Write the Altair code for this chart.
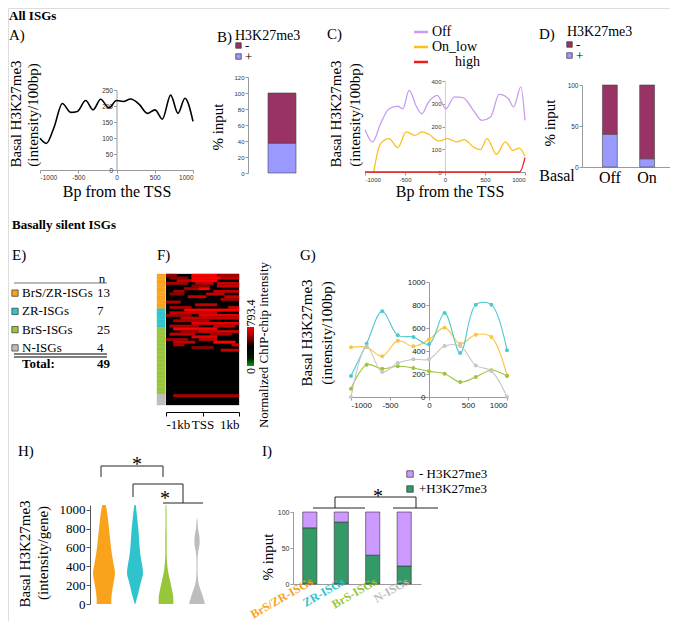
import altair as alt
import pandas as pd

W, H = 662, 613
M = 8
SERIF = "Liberation Serif"
SANS = "Liberation Sans"


def P(v):
    return v - M


# ---------------- data ----------------
# A) all ISGs
a_bp = [-1000, -917, -817, -708, -599, -512, -403, -307, -207, -98, 0, 89, 185, 294, 403, 503, 599, 708, 804, 895, 1000]
a_val = [99, 83, 133, 208, 180, 183, 217, 188, 221, 194, 217, 214, 222, 206, 177, 188, 159, 234, 177, 224, 152]

# B) all ISGs, % input
b_signs = ["-", "+"]
b_pct = [63, 37]
b_colors = ["#993366", "#9999ff"]

# C) by basal expression
c_off_bp = [-1000, -905, -806, -699, -591, -527, -449, -355, -290, -204, -97, 11, 118, 226, 355, 462, 570, 677, 793, 858, 948, 1000]
c_off_val = [186, 132, 212, 278, 289, 278, 359, 286, 256, 308, 337, 278, 330, 327, 271, 227, 242, 341, 322, 286, 374, 227]
c_low_bp = [-892, -806, -699, -591, -484, -376, -290, -204, -75, 32, 140, 239, 355, 441, 527, 643, 755, 849, 927, 1000]
c_low_val = [0, 125, 147, 107, 176, 161, 176, 166, 136, 147, 132, 142, 110, 98, 147, 78, 132, 95, 105, 69]
c_high_bp = [-1000, 935, 1000]
c_high_val = [0, 0, 63]
c_series = ["Off", "On_low", "high"]
c_colors = ["#c79cf2", "#fbbf1e", "#ee1c1c"]

# D)
d_cats = ["Off", "On"]
d_plus = [40, 10]

# E) groups
groups = ["BrS/ZR-ISGs", "ZR-ISGs", "BrS-ISGs", "N-ISGs"]
counts = [13, 7, 25, 4]
group_colors = ["#f8a31b", "#2fc4cd", "#98c63a", "#bdbdbd"]

# F) heatmap: per gene row, red segments (first column, last column, level 1-9)
f_segments = [
    [(0, 2, 5), (7, 13, 9), (14, 19, 6)],
    [(1, 5, 5), (7, 14, 9), (15, 19, 7)],
    [(3, 6, 7), (7, 13, 9)],
    [(0, 5, 6), (8, 12, 7), (14, 19, 7)],
    [(7, 11, 5), (14, 19, 7)],
    [(5, 8, 6), (9, 11, 9)],
    [(2, 4, 6), (13, 19, 7)],
    [(1, 4, 5), (11, 15, 7)],
    [(6, 10, 7), (16, 19, 7)],
    [(15, 19, 6)],
    [(0, 3, 6)],
    [(8, 13, 7)],
    [(1, 6, 6), (17, 19, 7)],
    [(5, 19, 9)],
    [(1, 13, 7)],
    [(0, 6, 6), (9, 19, 8)],
    [(4, 19, 7)],
    [(2, 11, 6)],
    [(7, 19, 8)],
    [(1, 8, 6), (13, 18, 7)],
    [(2, 13, 9)],
    [(4, 8, 6), (9, 19, 8)],
    [(1, 7, 7), (12, 17, 6)],
    [(7, 13, 8)],
    [(0, 5, 6), (9, 13, 7)],
    [(2, 7, 7), (13, 18, 9)],
    [(2, 4, 6), (18, 19, 7)],
    [(7, 12, 5)],
    [(15, 19, 7)],
    [], [], [], [], [], [], [], [], [], [], [], [], [], [], [], [],
    [(2, 19, 6)],
    [], [], [],
]
f_max = 793.4

# G) basally silent, per group
g_bp = [-1000, -800, -600, -400, -200, 0, 200, 400, 600, 800, 1000]
g_brszr = [432, 432, 354, 490, 441, 499, 603, 464, 542, 522, 188]
g_zr = [183, 464, 745, 536, 522, 458, 730, 383, 803, 803, 406]
g_brs = [72, 281, 246, 267, 252, 223, 203, 130, 174, 232, 183]
g_n = [0, 441, 217, 296, 328, 328, 443, 443, 275, 226, 0]
g_colors = ["#f9c43e", "#4cc8cf", "#9cc43c", "#c6c6c6"]

# H) violin profiles (half width, arbitrary density units) at levels
h_levels = {
    "BrS/ZR-ISGs": [0, 50, 150, 250, 330, 400, 500, 600, 700, 800, 900, 1000, 1050],
    "ZR-ISGs": [0, 40, 100, 180, 250, 330, 400, 500, 600, 700, 800, 900, 1000, 1050],
    "BrS-ISGs": [0, 60, 150, 250, 350, 450, 550, 700, 850, 1000, 1050],
    "N-ISGs": [0, 50, 120, 200, 300, 400, 500, 580, 650, 720, 800, 880, 920],
}
h_width = {
    "BrS/ZR-ISGs": [22, 22, 25, 30, 33, 30, 25, 21, 18, 15, 12, 8, 5],
    "ZR-ISGs": [1, 4, 9, 14, 19, 24, 22, 17, 14, 12, 10, 7, 4, 2],
    "BrS-ISGs": [22, 22, 18, 12, 6, 3, 2, 2, 1.5, 1.5, 1],
    "N-ISGs": [24, 20, 14, 6, 2, 1.5, 2, 5, 8, 7, 3, 1.5, 0],
}

# I) % input
i_plus = [78, 86, 40, 25]
i_signs = ["- H3K27me3", "+H3K27me3"]
i_colors = ["#cc99ff", "#339966"]


# ---------------- helpers ----------------
def mk_axis(orient, at, **kw):
    off = (P(at) - H) if orient == "bottom" else -P(at)
    base = dict(orient=orient, offset=off, grid=False, title=None,
                labelFont=SANS, labelFontSize=7, labelColor="#333",
                domainColor="#9a9a9a", tickColor="#9a9a9a", tickSize=3,
                labelPadding=1, labelExpr="'' + datum.value")
    base.update(kw)
    return alt.Axis(**base)


one = pd.DataFrame({"k": [0]})


def txt(s, x, y, size=15, angle=0, align="center", weight="normal",
        baseline="middle", font=SERIF, color="black"):
    return alt.Chart(one).mark_text(
        text=s, fontSize=size, angle=angle, align=align, baseline=baseline,
        font=font, fontWeight=weight, color=color
    ).encode(x=alt.value(P(x)), y=alt.value(P(y)))


def segs(lst, color="black", width=1.0):
    df = pd.DataFrame([[P(a), P(b), P(c), P(d)] for a, b, c, d in lst],
                      columns=["x", "y", "x2", "y2"])
    return alt.Chart(df).mark_rule(color=color, strokeWidth=width).encode(
        x=alt.X("x:Q", scale=None, axis=None), y=alt.Y("y:Q", scale=None, axis=None),
        x2="x2:Q", y2="y2:Q")


def sq_legend(items, colors, x_sq, x_txt, y0, y1, size, fs):
    df = pd.DataFrame({"item": items})
    ys = alt.Scale(domain=items, range=[P(y0), P(y1)])
    sq = alt.Chart(df).mark_square(size=size, opacity=1, stroke="#333", strokeWidth=0.7).encode(
        y=alt.Y("item:N", scale=ys, axis=None), x=alt.value(P(x_sq)),
        color=alt.Color("item:N", scale=alt.Scale(domain=items, range=colors), legend=None))
    tx = alt.Chart(df).mark_text(align="left", font=SERIF, fontSize=fs, color="black").encode(
        y=alt.Y("item:N", scale=ys, axis=None), x=alt.value(P(x_txt)), text="item:N")
    return [sq, tx]


layers = []

# ---------------- A ----------------
dfA = pd.DataFrame({"bp": a_bp, "v": a_val})
layers.append(alt.Chart(dfA).mark_line(color="black", strokeWidth=1.6, interpolate="monotone").encode(
    x=alt.X("bp:Q", scale=alt.Scale(domain=[-1000, 1000], range=[P(40), P(193)]),
            axis=mk_axis("bottom", 170, values=[-1000, -500, 0, 500, 1000], labelFontSize=6.5)),
    y=alt.Y("v:Q", scale=alt.Scale(domain=[0, 250], range=[P(170), P(90)]),
            axis=mk_axis("left", 116.5, values=[0, 50, 100, 150, 200, 250], labelFontSize=6.5)),
))

# ---------------- B ----------------
dfB = pd.DataFrame({"grp": ["all", "all"], "sign": b_signs, "pct": b_pct, "ord": [1, 0]})
layers.append(alt.Chart(dfB).mark_bar(stroke="#444", strokeWidth=0.6).encode(
    x=alt.X("grp:N", scale=alt.Scale(domain=["all"], range=[P(248), P(316)], paddingInner=0, paddingOuter=0.715), axis=None),
    y=alt.Y("pct:Q", stack="zero", scale=alt.Scale(domain=[0, 120], range=[P(173), P(77)]),
            axis=mk_axis("left", 248, values=list(range(0, 121, 20)), labelFontSize=6)),
    color=alt.Color("sign:N", scale=alt.Scale(domain=b_signs, range=b_colors), legend=None),
    order=alt.Order("ord:Q"),
))
layers += sq_legend(b_signs, b_colors, 238.5, 245, 40, 62, 30, 13)

# ---------------- C ----------------
dfC = pd.concat([
    pd.DataFrame({"s": "Off", "bp": c_off_bp, "v": c_off_val}),
    pd.DataFrame({"s": "On_low", "bp": c_low_bp, "v": c_low_val}),
    pd.DataFrame({"s": "high", "bp": c_high_bp, "v": c_high_val}),
])
cscale = alt.Scale(domain=c_series, range=c_colors)
layers.append(alt.Chart(dfC).mark_line(interpolate="monotone", strokeWidth=1.3).encode(
    x=alt.X("bp:Q", scale=alt.Scale(domain=[-1000, 1000], range=[P(365), P(525)]),
            axis=mk_axis("bottom", 172, values=[-1000, -500, 0, 500, 1000], labelFontSize=6)),
    y=alt.Y("v:Q", scale=alt.Scale(domain=[0, 400], range=[P(172), P(81)]),
            axis=mk_axis("left", 445, values=[0, 100, 200, 300, 400], labelFontSize=6, domainColor="#d0d0d0")),
    color=alt.Color("s:N", scale=cscale, legend=None),
    order=alt.Order("bp:Q"),
))
dfCL = pd.DataFrame({"s": c_series})
cys = alt.Scale(domain=c_series, range=[P(24.5), P(69.5)])
layers.append(alt.Chart(dfCL).mark_rule(strokeWidth=2.5).encode(
    y=alt.Y("s:N", scale=cys, axis=None), x=alt.value(P(414)), x2=alt.value(P(428)),
    color=alt.Color("s:N", scale=cscale, legend=None)))
layers.append(alt.Chart(dfCL).transform_filter("datum.s != 'high'").mark_text(
    align="left", font=SERIF, fontSize=14, color="black").encode(
    y=alt.Y("s:N", scale=cys, axis=None), x=alt.value(P(432)), text="s:N"))
layers.append(alt.Chart(dfCL).transform_filter("datum.s == 'high'").mark_text(
    align="left", font=SERIF, fontSize=14, color="black").encode(
    y=alt.Y("s:N", scale=cys, axis=None), x=alt.value(P(455)), text="s:N"))

# ---------------- D ----------------
dfD = pd.DataFrame({
    "cat": d_cats + d_cats,
    "sign": ["+", "+", "-", "-"],
    "pct": d_plus + [100 - p for p in d_plus],
    "ord": [0, 0, 1, 1],
})
layers.append(alt.Chart(dfD).mark_bar(stroke="#444", strokeWidth=0.6).encode(
    x=alt.X("cat:N", scale=alt.Scale(domain=d_cats, range=[P(582), P(675)], paddingInner=0.6, paddingOuter=0.55),
            axis=mk_axis("bottom", 167, labelFont=SERIF, labelFontSize=16, labelColor="black", labelAngle=0,
                         ticks=False, labelPadding=2, labelExpr="datum.label")),
    y=alt.Y("pct:Q", stack="zero", scale=alt.Scale(domain=[0, 100], range=[P(167), P(85)]),
            axis=mk_axis("left", 582, values=[0, 50, 100], labelFontSize=6.5)),
    color=alt.Color("sign:N", scale=alt.Scale(domain=b_signs, range=b_colors), legend=None),
    order=alt.Order("ord:Q"),
))
layers += sq_legend(b_signs, b_colors, 569.5, 576, 39, 61, 30, 13)

# ---------------- E ----------------
dfE = pd.DataFrame({"group": groups, "n": counts})
eband = alt.Scale(domain=groups, range=[P(284), P(357)])
gscale = alt.Scale(domain=groups, range=group_colors)
layers.append(alt.Chart(dfE).mark_square(size=40, opacity=1, stroke="#333", strokeWidth=0.7).encode(
    y=alt.Y("group:N", scale=eband, axis=None), x=alt.value(P(15)),
    color=alt.Color("group:N", scale=gscale, legend=None)))
layers.append(alt.Chart(dfE).mark_text(align="left", font=SERIF, fontSize=13, color="black").encode(
    y=alt.Y("group:N", scale=eband, axis=None), x=alt.value(P(22)), text="group:N"))
layers.append(alt.Chart(dfE).mark_text(align="left", font=SERIF, fontSize=13, color="black").encode(
    y=alt.Y("group:N", scale=eband, axis=None), x=alt.value(P(97)), text="n:Q"))
layers.append(alt.Chart(dfE).transform_aggregate(total="sum(n)").mark_text(
    align="left", font=SERIF, fontSize=13, fontWeight="bold", color="black").encode(
    x=alt.value(P(97)), y=alt.value(P(364)), text="total:Q"))

# ---------------- F ----------------
n_rows = len(f_segments)
rows = [{"r0": 0, "r1": n_rows, "start": -1000, "end": 1000, "lev": 0}]
for r, seglist in enumerate(f_segments):
    for a, b, l in seglist:
        rows.append({"r0": r, "r1": r + 1, "start": -1000 + a * 100, "end": -900 + b * 100, "lev": l})
dfF = pd.DataFrame(rows)
levels = list(range(10))
heat_colors = ["#%02x0000" % int(round(l / 9 * 255)) for l in levels]
heat_scale = alt.Scale(domain=levels, range=heat_colors)
rowlin = alt.Scale(domain=[0, n_rows], range=[P(274), P(405)])
layers.append(alt.Chart(dfF).mark_rect(strokeWidth=0.3).encode(
    x=alt.X("start:Q", scale=alt.Scale(domain=[-1000, 1000], range=[P(166), P(239)]),
            axis=mk_axis("bottom", 412, values=[-1000, 0, 1000], labelFont=SERIF, labelFontSize=13,
                         labelColor="black", domainColor="black", tickColor="black", tickSize=4,
                         labelPadding=2,
                         labelExpr="datum.value == 0 ? 'TSS' : (datum.value < 0 ? '-1kb' : '1kb')")),
    x2="end:Q",
    y=alt.Y("r0:Q", scale=rowlin, axis=None),
    y2="r1:Q",
    color=alt.Color("lev:O", scale=heat_scale, legend=None),
    stroke=alt.Stroke("lev:O", scale=heat_scale, legend=None),
))
side = []
for g, n in zip(groups, counts):
    side += [g] * n
dfS = pd.DataFrame({"r0": list(range(len(side))), "r1": list(range(1, len(side) + 1)), "group": side})
layers.append(alt.Chart(dfS).mark_rect(strokeWidth=0.4).encode(
    y=alt.Y("r0:Q", scale=rowlin, axis=None), y2="r1:Q",
    x=alt.value(P(157)), x2=alt.value(P(165)),
    color=alt.Color("group:N", scale=gscale, legend=None),
    stroke=alt.Stroke("group:N", scale=gscale, legend=None)))
layers.append(alt.Chart(one).mark_rect(color=alt.LinearGradient(
    gradient="linear", x1=0, y1=0, x2=0, y2=1,
    stops=[alt.GradientStop(offset=0, color="#ff0000"), alt.GradientStop(offset=0.3, color="#800000"),
           alt.GradientStop(offset=0.5, color="#000000"), alt.GradientStop(offset=0.8, color="#001a00"),
           alt.GradientStop(offset=1, color="#00a000")])).encode(
    x=alt.value(P(247)), x2=alt.value(P(254)), y=alt.value(P(327)), y2=alt.value(P(366))))

# ---------------- G ----------------
dfG = pd.concat([pd.DataFrame({"s": g, "bp": g_bp, "v": vals})
                 for g, vals in zip(groups, [g_brszr, g_zr, g_brs, g_n])])
layers.append(alt.Chart(dfG).mark_line(interpolate="catmull-rom", strokeWidth=1.1,
                                       point=alt.OverlayMarkDef(filled=True, size=16)).encode(
    x=alt.X("bp:Q", scale=alt.Scale(domain=[-1000, 1000], range=[P(351), P(507)]),
            axis=mk_axis("bottom", 397, values=[-1000, -500, 0, 500, 1000], labelFontSize=8, labelColor="#222")),
    y=alt.Y("v:Q", scale=alt.Scale(domain=[0, 1000], range=[P(397), P(282)]),
            axis=mk_axis("left", 429, values=[0, 200, 400, 600, 800, 1000], labelFontSize=8, labelColor="#222")),
    color=alt.Color("s:N", scale=alt.Scale(domain=groups, range=g_colors), legend=None),
    order=alt.Order("bp:Q"),
))

# ---------------- H ----------------
vrows = []
for i, g in enumerate(groups):
    for lv, w in zip(h_levels[g], h_width[g]):
        vrows.append({"group": g, "idx": i, "level": lv, "w": w})
dfH = pd.DataFrame(vrows)
k = 1 / 93.0
layers.append(alt.Chart(dfH).transform_calculate(
    xl=f"datum.idx - datum.w * {k}", xr=f"datum.idx + datum.w * {k}"
).mark_area(orient="horizontal", interpolate="monotone", opacity=1).encode(
    y=alt.Y("level:Q", scale=alt.Scale(domain=[0, 1050], range=[P(604), P(505)]),
            axis=mk_axis("left", 90, values=[0, 200, 400, 600, 800, 1000], labelFont=SERIF,
                         labelFontSize=13, labelColor="black", domainColor="#555", tickColor="#555",
                         tickSize=4, labelPadding=1)),
    x=alt.X("xl:Q", stack=None, scale=alt.Scale(domain=[0, 3], range=[P(104), P(197)]), axis=None),
    x2="xr:Q",
    color=alt.Color("group:N", scale=gscale, legend=None),
))

# ---------------- I ----------------
dfI = pd.DataFrame({
    "cat": groups + groups,
    "sign": ["+H3K27me3"] * 4 + ["- H3K27me3"] * 4,
    "pct": i_plus + [100 - p for p in i_plus],
    "ord": [0] * 4 + [1] * 4,
})
iband = alt.Scale(domain=groups, range=[P(293), P(421)], paddingInner=0.55, paddingOuter=0.31)
layers.append(alt.Chart(dfI).mark_bar(stroke="#333", strokeWidth=0.6).encode(
    x=alt.X("cat:N", scale=iband, axis=mk_axis("bottom", 584, labels=False, ticks=False)),
    y=alt.Y("pct:Q", stack="zero", scale=alt.Scale(domain=[0, 100], range=[P(584), P(512)]),
            axis=mk_axis("left", 293, values=[0, 50, 100], labelFontSize=7)),
    color=alt.Color("sign:N", scale=alt.Scale(domain=i_signs, range=i_colors), legend=None),
    order=alt.Order("ord:Q"),
))
layers += sq_legend(i_signs, i_colors, 410, 419, 466.5, 496.5, 42, 13)
layers.append(alt.Chart(pd.DataFrame({"cat": groups})).mark_text(
    angle=330, align="right", baseline="middle", font=SERIF, fontSize=12, fontWeight="bold", dx=3).encode(
    x=alt.X("cat:N", scale=iband, axis=None), y=alt.value(P(582)), text="cat:N",
    color=alt.Color("cat:N", scale=gscale, legend=None)))

# ---------------- annotations ----------------
layers += [
    txt("All ISGs", 9, 16, 13, align="left", weight="bold"),
    txt("A)", 9, 35, 15, align="left"),
    txt("Basal H3K27me3", 16, 114, 15, angle=270),
    txt("(intensity/100bp)", 33, 115, 15, angle=270),
    txt("Bp from the TSS", 117, 192, 16),
    txt("B)", 217, 37, 15, align="left"),
    txt("H3K27me3", 235, 36, 14, align="left"),
    txt("% input", 218, 127, 15, angle=270),
    txt("C)", 327, 34, 15, align="left"),
    txt("Basal H3K27me3", 336, 114, 15, angle=270),
    txt("(intensity/100bp)", 355, 115, 15, angle=270),
    txt("Bp from the TSS", 450, 192, 16),
    txt("D)", 539, 34, 15, align="left"),
    txt("H3K27me3", 567, 32, 14, align="left"),
    txt("% input", 550, 123, 15, angle=270),
    txt("Basal", 557, 176, 16),
    txt("Basally silent ISGs", 12, 225, 13, align="left", weight="bold"),
    txt("E)", 12, 255, 15, align="left"),
    txt("n", 102, 279, 13),
    txt("Total:", 22, 364, 13, align="left", weight="bold"),
    txt("F)", 157, 255, 15, align="left"),
    txt("793.4", 251, 313, 12, angle=270),
    txt("0", 251, 371, 12, angle=270),
    txt("Normalized ChIP-chip intensity", 264, 345, 13, angle=270),
    txt("G)", 300, 255, 15, align="left"),
    txt("Basal H3K27me3", 307, 333, 15, angle=270),
    txt("(intensity/100bp)", 327, 333, 15, angle=270),
    txt("H)", 18, 451, 15, align="left"),
    txt("*", 137, 471, 20, baseline="alphabetic"),
    txt("*", 165, 505, 20, baseline="alphabetic"),
    txt("Basal H3K27me3", 25, 554, 15, angle=270),
    txt("(intensity/gene)", 43, 553, 15, angle=270),
    txt("I)", 262, 451, 15, align="left"),
    txt("% input", 268, 557, 15, angle=270),
    txt("*", 378, 503, 20, baseline="alphabetic"),
    segs([(14, 283, 107, 283)], color="#777", width=1),
    segs([(14, 354, 107, 354), (14, 357, 107, 357)], color="#555", width=1.3),
    segs([(101, 477, 101, 466), (101, 466, 163, 466), (163, 466, 163, 477),
          (133, 497, 133, 484), (133, 484, 183, 484), (183, 484, 183, 503), (163, 503, 203, 503),
          (313, 508, 365, 508), (393, 508, 438, 508), (335, 508, 335, 497), (335, 497, 416, 497),
          (416, 497, 416, 508)], color="#222", width=1),
]

chart = alt.layer(*layers).resolve_scale(
    x="independent", y="independent", color="independent", stroke="independent"
).resolve_axis(x="independent", y="independent").resolve_legend(color="independent").properties(
    width=W, height=H, padding=0, autosize=alt.AutoSizeParams(type="none")
).configure_view(stroke=None).configure(background="white")

chart.save("out.html", embed_options={"renderer": "svg", "actions": False})
